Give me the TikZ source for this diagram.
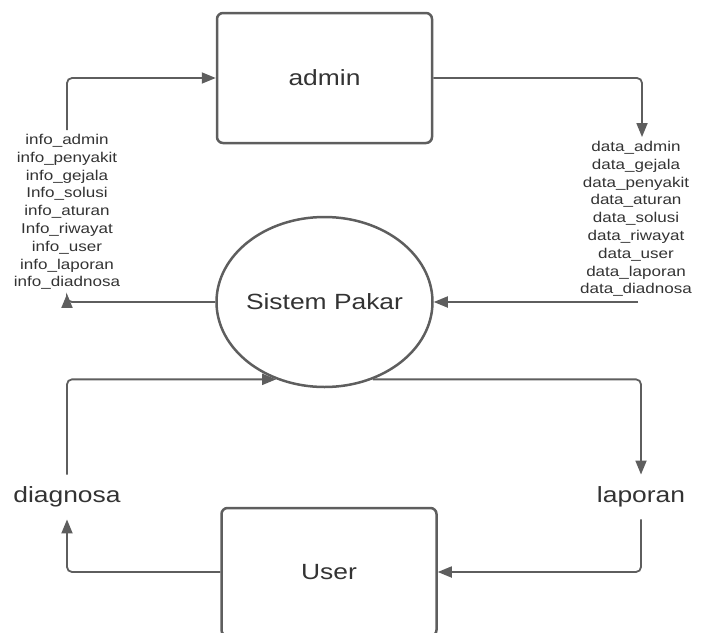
\documentclass[tikz,border=0pt]{standalone}
\usepackage{fontspec}
\setmainfont{Liberation Sans}[FakeStretch=1.2]
\usetikzlibrary{shapes.geometric}
\usetikzlibrary{arrows.meta}
\definecolor{linegray}{HTML}{5E5E5E}
\definecolor{textgray}{HTML}{333333}

\begin{document}
\begin{tikzpicture}[x=1pt, y=-1pt]
\useasboundingbox (0,0) rectangle (701,632);

\tikzstyle{entity}=[draw=linegray, line width=2.5pt, rounded corners=6pt,
minimum width=215pt, text=textgray, font=\fontsize{22}{26}\selectfont]
\tikzstyle{process}=[ellipse, draw=linegray, line width=2.5pt, inner xsep=-3pt,
minimum width=216pt, minimum height=170pt, text=textgray, font=\fontsize{22}{26}\selectfont]
\tikzstyle{flowlist}=[align=center, text=textgray, inner sep=4pt,
font=\fontsize{14.2}{17.8}\selectfont]
\tikzstyle{flowlabel}=[text=textgray, inner sep=12pt, font=\fontsize{22}{26}\selectfont]
\tikzstyle{flow}=[draw=linegray, line width=1.8pt, rounded corners=5pt,
-{Triangle[length=14pt,width=11pt]}]

\node[entity, minimum height=130pt] (admin) at (324.5,78) {admin};
\node[process] (sp) at (324.5,302) {Sistem Pakar};
\node[entity, minimum height=128pt] (user) at (329,572) {User};

\node[flowlist] (info) at (67,212) {info\_admin\\info\_penyakit\\info\_gejala\\Info\_solusi\\info\_aturan\\Info\_riwayat\\info\_user\\info\_laporan\\info\_diadnosa};
\node[flowlist] (data) at (636,219) {data\_admin\\data\_gejala\\data\_penyakit\\data\_aturan\\data\_solusi\\data\_riwayat\\data\_user\\data\_laporan\\data\_diadnosa};
\node[flowlabel] (diag) at (67,497) {diagnosa};
\node[flowlabel] (lap) at (641,497) {laporan};
\coordinate (dataend) at (638,302);

% admin <-> sistem pakar
\draw[flow] (info.north) |- (admin.west);
\draw[flow] (admin.east) -| ([xshift=6pt]data.north);
\draw[flow] (sp.west) -| (info.south);
\draw[flow] (dataend) -- (sp.east);

% user <-> sistem pakar
\draw[flow] (diag.north) |- (sp.-122);
\draw[flow] (sp.-58) -| (lap.north);
\draw[flow] (user.west) -| (diag.south);
\draw[flow] (lap.south) |- (user.east);
\end{tikzpicture}
\end{document}
